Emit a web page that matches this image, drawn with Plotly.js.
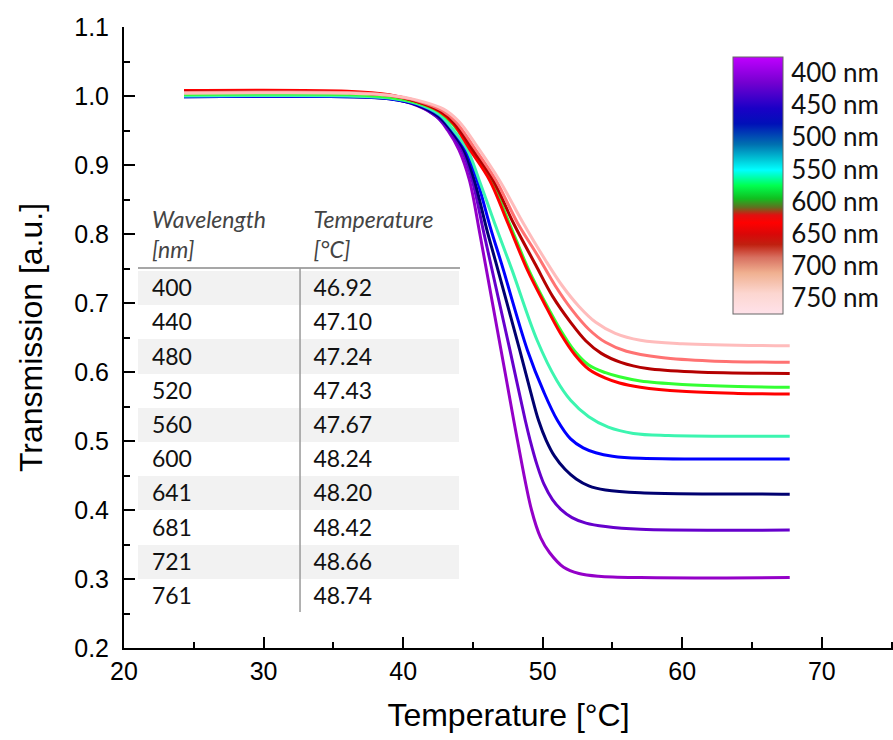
<!DOCTYPE html>
<html>
<head>
<meta charset="utf-8">
<script src="https://cdn.plot.ly/plotly-3.0.1.min.js"></script>
<style>html,body{margin:0;padding:0;background:#fff}#chart{width:893px;height:740px}</style>
</head>
<body>
<div id="chart"></div>
<script>
// ---- Data ----
const wavelengths = [400, 440, 480, 520, 560, 600, 641, 681, 721, 761];
const transitionTemps = [46.92, 47.10, 47.24, 47.43, 47.67, 48.24, 48.20, 48.42, 48.66, 48.74];
const lineColors = ['#9400c8', '#6600cc', '#000070', '#0000ff', '#3cf5b0', '#33ff33', '#ff0000', '#b40000', '#ff7272', '#ffbcbc'];

const T400 = [24.3, 36, 39, 41, 42.4, 43.2, 44.0, 44.75, 45.5, 46.4, 47.3, 48.2, 49.2, 49.85, 50.5, 51.5, 52.6, 54.0, 57, 67.7];
const V400 = [1.003, 1.002, 0.997, 0.986, 0.970, 0.950, 0.922, 0.878, 0.800, 0.700, 0.600, 0.500, 0.400, 0.360, 0.338, 0.317, 0.308, 0.304, 0.302, 0.302];

const T440 = [24.3, 36, 39, 41, 42.4, 43.3, 44.2, 44.95, 45.8, 46.9, 47.65, 48.75, 49.1, 49.6, 50.1, 50.7, 51.3, 52.1, 53.1, 54.5, 57, 67.7];
const V440 = [1.002, 1.001, 0.997, 0.987, 0.970, 0.950, 0.922, 0.878, 0.800, 0.700, 0.632, 0.530, 0.501, 0.465, 0.437, 0.415, 0.401, 0.389, 0.381, 0.376, 0.372, 0.371];

const T480 = [24.3, 36, 39, 41, 42.5, 43.4, 44.35, 45.1, 46.0, 46.6, 48.35, 49.15, 49.7, 50.25, 50.85, 51.6, 52.4, 53.3, 54.5, 57, 67.7];
const V480 = [0.999, 0.999, 0.996, 0.987, 0.971, 0.951, 0.922, 0.878, 0.806, 0.762, 0.632, 0.570, 0.530, 0.501, 0.478, 0.459, 0.445, 0.435, 0.429, 0.425, 0.423];

const T520 = [24.3, 36, 39, 41, 42.6, 43.5, 44.5, 45.3, 46.3, 47.05, 48.9, 50.1, 51.05, 52.0, 52.9, 53.8, 55.0, 57, 67.7];
const V520 = [0.999, 0.999, 0.996, 0.988, 0.972, 0.952, 0.922, 0.878, 0.806, 0.757, 0.632, 0.570, 0.530, 0.503, 0.490, 0.483, 0.478, 0.475, 0.474];

const T560 = [24.3, 36, 39, 41, 42.6, 43.5, 44.6, 45.45, 46.55, 47.8, 49.6, 51.0, 52.0, 53.3, 54.7, 56.5, 59, 67.7];
const V560 = [1.000, 1.000, 0.997, 0.989, 0.973, 0.953, 0.922, 0.878, 0.816, 0.748, 0.646, 0.588, 0.559, 0.535, 0.520, 0.511, 0.508, 0.507];

const T600 = [24.3, 36, 39, 41, 42.6, 43.6, 44.9, 46.3, 47.6, 49.0, 50.2, 51.3, 52.3, 53.3, 54.5, 55.5, 57, 60, 64, 67.7];
const V600 = [1.002, 1.002, 0.998, 0.990, 0.977, 0.958, 0.922, 0.878, 0.816, 0.748, 0.700, 0.660, 0.630, 0.610, 0.599, 0.593, 0.587, 0.582, 0.579, 0.578];

const T641 = [24.3, 36, 39, 41, 42.6, 43.6, 44.8, 46.2, 47.5, 48.9, 50.1, 51.3, 52.3, 53.3, 54.5, 55.5, 57, 60, 64, 67.7];
const V641 = [1.008, 1.007, 1.002, 0.992, 0.978, 0.960, 0.922, 0.878, 0.816, 0.748, 0.700, 0.655, 0.625, 0.604, 0.591, 0.584, 0.578, 0.572, 0.569, 0.568];

const T681 = [24.3, 36, 39, 41, 42.7, 43.7, 45.0, 46.45, 47.9, 49.5, 50.7, 52.0, 53.1, 54.2, 55.6, 57.5, 61, 67.7];
const V681 = [1.006, 1.005, 1.001, 0.992, 0.978, 0.960, 0.922, 0.878, 0.816, 0.755, 0.710, 0.672, 0.645, 0.627, 0.614, 0.605, 0.600, 0.598];

const T721 = [24.3, 36, 39, 41, 42.8, 43.8, 45.1, 46.65, 48.2, 49.6, 50.9, 52.1, 53.3, 54.5, 56.0, 58.5, 62, 67.7];
const V721 = [1.005, 1.005, 1.001, 0.993, 0.979, 0.962, 0.925, 0.878, 0.816, 0.770, 0.725, 0.690, 0.662, 0.643, 0.630, 0.621, 0.616, 0.614];

const T761 = [24.3, 36, 39, 41, 42.9, 44.0, 45.2, 46.9, 48.6, 50.2, 51.4, 52.6, 53.8, 55.2, 57, 60, 67.7];
const V761 = [1.004, 1.004, 1.001, 0.994, 0.981, 0.963, 0.930, 0.878, 0.816, 0.762, 0.725, 0.695, 0.672, 0.656, 0.646, 0.641, 0.638];

const curveT = [T400, T440, T480, T520, T560, T600, T641, T681, T721, T761];
const curveV = [V400, V440, V480, V520, V560, V600, V641, V681, V721, V761];

// colour key (legend bar)
const keyLabels = ['400 nm', '450 nm', '500 nm', '550 nm', '600 nm', '650 nm', '700 nm', '750 nm'];
const keyValues = [400, 450, 500, 550, 600, 650, 700, 750];
const keyRange = [375, 775];
// colour stops from top (400 nm side) to bottom
const keyStopPos = [0, 0.10, 0.20, 0.26, 0.34, 0.40, 0.44, 0.50, 0.55, 0.585, 0.615, 0.645, 0.69, 0.73, 0.78, 0.84, 0.92, 1];
const keyStopCol = ['#c000ff', '#7400d0', '#1a00c6', '#0010b8', '#0070b0', '#00c8d8', '#00ffff', '#00ff50', '#10c020', '#607020', '#e01010', '#ff0000', '#d80808', '#c02010', '#d87060', '#f0b090', '#fcd6d0', '#ffe2ea'];

// ---- Build traces ----
const traces = [];
for (let i = 0; i < wavelengths.length; i++) {
  traces.push({
    type: 'scatter', mode: 'lines',
    x: curveT[i], y: curveV[i],
    line: {color: lineColors[i], width: 3, shape: 'spline', smoothing: 1},
    name: wavelengths[i] + ' nm', hoverinfo: 'x+y+name'
  });
}

// colour key via a colorbar (negated so 400 nm sits on top)
const colorscale = keyStopPos.map((p, i) => [1 - p, keyStopCol[i]]).reverse();
traces.push({
  type: 'scatter', mode: 'markers', x: [null, null], y: [null, null],
  hoverinfo: 'skip', showlegend: false,
  marker: {
    color: [-keyRange[1], -keyRange[0]], cmin: -keyRange[1], cmax: -keyRange[0],
    colorscale: colorscale, showscale: true, size: 0,
    colorbar: {
      thickness: 50, thicknessmode: 'pixels', len: 257, lenmode: 'pixels',
      x: 0.792, xanchor: 'left', y: 0.9517, yanchor: 'top', xpad: 0, ypad: 0,
      outlinewidth: 1, outlinecolor: '#666',
      tickmode: 'array', tickvals: keyValues.map(v => -v), ticktext: keyLabels,
      ticks: 'outside', ticklen: 3, tickcolor: 'rgba(0,0,0,0)',
      tickfont: {family: 'Lato, Carlito, sans-serif', size: 26, color: '#111'}
    }
  }
});

// table
const rowFill = wavelengths.map((w, i) => i % 2 === 0 ? '#f2f2f2' : 'rgba(255,255,255,0)');
traces.push({
  type: 'table',
  domain: {x: [0.0182, 0.4369], y: [0.02, 0.7262]},
  columnwidth: [162, 160],
  header: {
    values: [['\u00a0<i>Wavelength</i><br>\u00a0<i>[nm]</i>'], ['\u00a0<i>Temperature</i><br>\u00a0<i>[°C]</i>']],
    align: 'left', height: 63,
    fill: {color: 'rgba(255,255,255,0)'},
    line: {width: 0, color: 'rgba(0,0,0,0)'},
    font: {family: 'Lato, Carlito, sans-serif', size: 23, color: '#444'}
  },
  cells: {
    values: [wavelengths, transitionTemps],
    format: ['d', '.2f'], prefix: '\u00a0',
    align: 'left', height: 34.2,
    fill: {color: [rowFill, rowFill]},
    line: {width: 0, color: 'rgba(0,0,0,0)'},
    font: {family: 'Lato, Carlito, sans-serif', size: 23, color: '#111'}
  }
});

const axisFont = {family: 'Liberation Sans, Arial, sans-serif', size: 25, color: '#000'};
const titleFont = {family: 'Liberation Sans, Arial, sans-serif', size: 32, color: '#000'};
const layout = {
  width: 893, height: 740,
  margin: {l: 124, r: 0, t: 27, b: 92},
  paper_bgcolor: '#fff', plot_bgcolor: '#fff',
  showlegend: false,
  xaxis: {
    range: [20, 75.1], dtick: 10, tick0: 20,
    ticks: 'inside', ticklen: 11, tickwidth: 2, tickcolor: '#000',
    minor: {dtick: 5, ticks: 'inside', ticklen: 6, tickwidth: 2, tickcolor: '#000'},
    showline: true, linewidth: 2, linecolor: '#000', mirror: false,
    showgrid: false, zeroline: false,
    tickfont: axisFont,
    title: {text: 'Temperature [°C]', font: titleFont, standoff: 20}
  },
  yaxis: {
    range: [0.2, 1.1], dtick: 0.1, tick0: 0.2, tickformat: '.1f',
    ticks: 'inside', ticklen: 11, tickwidth: 2, tickcolor: '#000',
    minor: {dtick: 0.05, ticks: 'inside', ticklen: 6, tickwidth: 2, tickcolor: '#000'},
    showline: true, linewidth: 2, linecolor: '#000', mirror: false,
    showgrid: false, zeroline: false,
    tickfont: axisFont, ticklabelstandoff: 8,
    title: {text: 'Transmission [a.u.]', font: titleFont, standoff: 22}
  },
  shapes: [
    {type: 'line', xref: 'paper', yref: 'paper', x0: 0.0182, x1: 0.4369, y0: 0.6119, y1: 0.6119, line: {color: '#8a8a8a', width: 1.5}},
    {type: 'line', xref: 'paper', yref: 'paper', x0: 0.2289, x1: 0.2289, y0: 0.6119, y1: 0.058, line: {color: '#999', width: 1.5}}
  ]
};

Plotly.newPlot('chart', traces, layout, {staticPlot: true, displayModeBar: false});
</script>
</body>
</html>
